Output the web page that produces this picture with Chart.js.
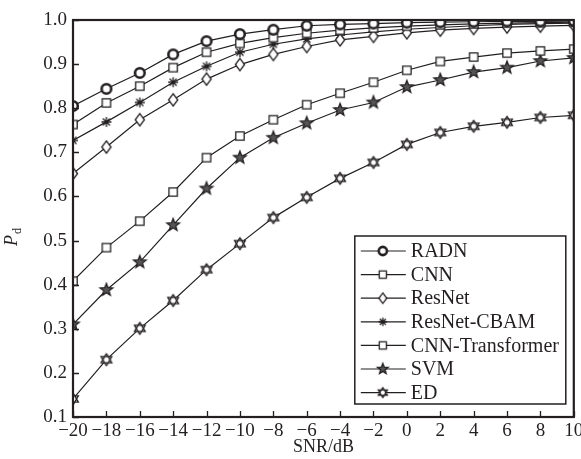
<!DOCTYPE html>
<html>
<head>
<meta charset="utf-8">
<script src="https://cdn.jsdelivr.net/npm/chart.js@4/dist/chart.umd.min.js"></script>
<style>
  html, body { margin: 0; padding: 0; background: #fff; }
  #wrap { width: 581px; height: 459px; position: relative; }
</style>
</head>
<body>
<div id="wrap"><canvas id="pdChart"></canvas></div>
<script>
// --- data ---
const snr = [-20, -18, -16, -14, -12, -10, -8, -6, -4, -2, 0, 2, 4, 6, 8, 10];
const seriesNames = ['RADN', 'CNN', 'ResNet', 'ResNet-CBAM', 'CNN-Transformer', 'SVM', 'ED'];
const radn   = [0.805, 0.844, 0.880, 0.922, 0.952, 0.968, 0.978, 0.987, 0.990, 0.992, 0.994, 0.995, 0.996, 0.997, 0.997, 0.998];
const cnn    = [0.763, 0.812, 0.850, 0.892, 0.927, 0.947, 0.960, 0.970, 0.977, 0.982, 0.986, 0.989, 0.991, 0.993, 0.994, 0.995];
const resnet = [0.652, 0.712, 0.774, 0.819, 0.866, 0.899, 0.922, 0.940, 0.955, 0.963, 0.971, 0.977, 0.981, 0.984, 0.986, 0.988];
const cbam   = [0.727, 0.769, 0.813, 0.859, 0.895, 0.927, 0.945, 0.957, 0.966, 0.973, 0.979, 0.983, 0.987, 0.990, 0.992, 0.993];
const cnnTr  = [0.408, 0.484, 0.544, 0.610, 0.688, 0.737, 0.774, 0.808, 0.834, 0.859, 0.886, 0.906, 0.916, 0.925, 0.930, 0.934];
const svm    = [0.310, 0.388, 0.451, 0.535, 0.618, 0.688, 0.733, 0.766, 0.796, 0.813, 0.848, 0.864, 0.882, 0.892, 0.907, 0.914];
const ed     = [0.141, 0.230, 0.301, 0.364, 0.434, 0.493, 0.552, 0.598, 0.641, 0.677, 0.718, 0.745, 0.759, 0.768, 0.779, 0.784];
const yTicks = [0.1, 0.2, 0.3, 0.4, 0.5, 0.6, 0.7, 0.8, 0.9, 1.0];

const INK = '#231f20';
const SERIF = '"Liberation Serif", "Times New Roman", serif';

// marker shapes drawn into small canvases, used as pointStyle images
function drawShape(ctx, kind, cx, cy, s) {
  ctx.strokeStyle = INK;
  ctx.fillStyle = '#fff';
  ctx.lineWidth = 1.3;
  ctx.beginPath();
  if (kind === 'circle') {
    ctx.lineWidth = 2.6;
    ctx.arc(cx, cy, 4.8 * s, 0, Math.PI * 2);
    ctx.fill(); ctx.stroke();
  } else if (kind === 'square') {
    const h = 4.2 * s;
    ctx.rect(cx - h, cy - h, 2 * h, 2 * h);
    ctx.fill(); ctx.stroke();
  } else if (kind === 'diamond') {
    const w = 4.6 * s, h = 6.2 * s;
    ctx.moveTo(cx, cy - h); ctx.lineTo(cx + w, cy); ctx.lineTo(cx, cy + h); ctx.lineTo(cx - w, cy);
    ctx.closePath(); ctx.fill(); ctx.stroke();
  } else if (kind === 'asterisk') {
    const r = 5 * s;
    for (let k = 0; k < 4; k++) {
      const a = k * Math.PI / 4;
      ctx.moveTo(cx - r * Math.cos(a), cy - r * Math.sin(a));
      ctx.lineTo(cx + r * Math.cos(a), cy + r * Math.sin(a));
    }
    ctx.stroke();
  } else if (kind === 'star') {
    const ro = 6.6 * s, ri = 2.8 * s;
    for (let k = 0; k < 10; k++) {
      const a = -Math.PI / 2 + k * Math.PI / 5;
      const r = k % 2 ? ri : ro;
      ctx.lineTo(cx + r * Math.cos(a), cy + r * Math.sin(a));
    }
    ctx.closePath();
    ctx.fillStyle = '#555';
    ctx.fill(); ctx.stroke();
  } else if (kind === 'hexagram') {
    const r = 6.2 * s;
    for (let t = 0; t < 2; t++) {
      const off = t ? Math.PI / 2 : -Math.PI / 2;
      ctx.moveTo(cx + r * Math.cos(off), cy + r * Math.sin(off));
      for (let k = 1; k <= 3; k++) {
        const a = off + k * 2 * Math.PI / 3;
        ctx.lineTo(cx + r * Math.cos(a), cy + r * Math.sin(a));
      }
    }
    ctx.fill(); ctx.stroke();
  }
}

function markerImage(kind, s) {
  const c = document.createElement('canvas');
  c.width = 18; c.height = 18;
  drawShape(c.getContext('2d'), kind, 9, 9, s);
  return c;
}

const kinds = ['circle', 'square', 'diamond', 'asterisk', 'square', 'star', 'hexagram'];
const values = [radn, cnn, resnet, cbam, cnnTr, svm, ed];

const datasets = seriesNames.map((name, i) => ({
  label: name,
  data: snr.map((x, j) => ({ x: x, y: values[i][j] })),
  borderColor: INK,
  borderWidth: 1.2,
  pointStyle: markerImage(kinds[i], 1),
  legendImg: markerImage(kinds[i], 0.85),
  pointRadius: 6,
  pointHoverRadius: 6,
  tension: 0,
  fill: false
}));

const minus = v => String(v).replace('-', '\u2212');

// frame, inward ticks, y title and boxed legend
const decor = {
  id: 'decor',
  afterDraw(chart) {
    const ctx = chart.ctx;
    const a = chart.chartArea;
    const xs = chart.scales.x, ys = chart.scales.y;
    ctx.save();
    ctx.strokeStyle = INK;
    ctx.lineWidth = 1.3;
    ctx.beginPath();
    snr.forEach(v => {
      const px = Math.round(xs.getPixelForValue(v)) + 0.5;
      ctx.moveTo(px, a.bottom); ctx.lineTo(px, a.bottom - 6);
    });
    yTicks.forEach(v => {
      const py = Math.round(ys.getPixelForValue(v)) + 0.5;
      ctx.moveTo(a.left, py); ctx.lineTo(a.left + 6, py);
    });
    ctx.stroke();
    ctx.lineWidth = 2.2;
    ctx.strokeRect(a.left, a.top, a.right - a.left, a.bottom - a.top);

    // y axis title: italic P with subscript d
    ctx.fillStyle = INK;
    ctx.translate(17, 246);
    ctx.rotate(-Math.PI / 2);
    ctx.textBaseline = 'alphabetic';
    ctx.font = 'italic 18px ' + SERIF;
    ctx.fillText('P', 0, 0);
    const pw = ctx.measureText('P').width;
    ctx.font = '12px ' + SERIF;
    ctx.fillText('d', pw + 1, 4);
    ctx.restore();

    // legend box
    const bx = a.right - 219, by = a.bottom - 181, bw = 211, bh = 168;
    ctx.save();
    ctx.fillStyle = '#fff';
    ctx.fillRect(bx, by, bw, bh);
    ctx.strokeStyle = INK;
    ctx.lineWidth = 1.5;
    ctx.strokeRect(bx, by, bw, bh);
    ctx.font = '20px ' + SERIF;
    ctx.textBaseline = 'middle';
    chart.data.datasets.forEach((ds, i) => {
      const y = by + 15 + i * 23.6;
      ctx.strokeStyle = INK;
      ctx.lineWidth = 1.2;
      ctx.beginPath();
      ctx.moveTo(bx + 6, y); ctx.lineTo(bx + 51, y);
      ctx.stroke();
      ctx.drawImage(ds.legendImg, bx + 28 - 9, y - 9);
      ctx.fillStyle = INK;
      ctx.fillText(ds.label, bx + 56, y + 1);
    });
    ctx.restore();
  }
};

new Chart(document.getElementById('pdChart'), {
  type: 'line',
  data: { datasets: datasets },
  options: {
    responsive: true,
    maintainAspectRatio: false,
    animation: false,
    layout: { padding: { top: 20, right: 3, left: 0, bottom: 0 } },
    plugins: { legend: { display: false }, tooltip: { enabled: false } },
    scales: {
      x: {
        type: 'linear',
        min: -20, max: 10,
        grid: { display: false, drawTicks: false },
        border: { display: false },
        ticks: {
          stepSize: 2, autoSkip: false, maxRotation: 0, padding: 3,
          color: INK, font: { family: SERIF, size: 19 },
          callback: v => minus(v)
        },
        title: {
          display: true, text: 'SNR/dB', color: INK,
          font: { family: SERIF, size: 18 }, padding: { top: 0, bottom: 1 }
        },
        afterFit(scale) { scale.height = 42; scale.paddingLeft = 0; scale.paddingRight = 0; }
      },
      y: {
        min: 0.1, max: 1.0,
        grid: { display: false, drawTicks: false },
        border: { display: false },
        ticks: {
          stepSize: 0.1, padding: 6,
          color: INK, font: { family: SERIF, size: 19 },
          callback: v => Number(v).toFixed(1)
        },
        afterFit(scale) { scale.width = 73; }
      }
    }
  },
  plugins: [decor]
});
</script>
</body>
</html>
